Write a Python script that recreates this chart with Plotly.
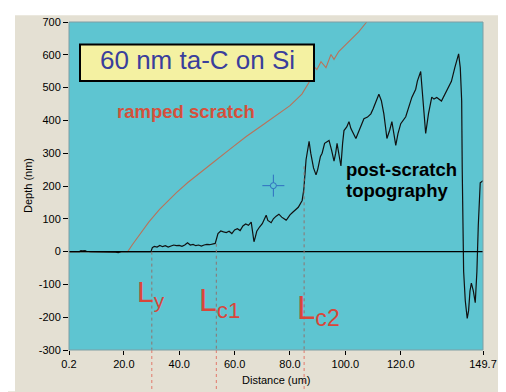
import plotly.graph_objects as go

# ---- data ----
ramp_x = [0.2, 21.4, 23.0, 25.7, 29.0, 32.9, 36.0, 39.0, 43.0, 47.3, 52.0, 58.0, 64.2, 70.0,
          76.1, 80.0, 84.3, 86.9, 88.7, 89.7, 91.2, 93.0, 94.8, 95.9, 97.6, 101.2, 104.8, 107.4, 110.0]
ramp_y = [0, 0, 20, 51, 90, 129, 155, 180, 210, 240, 270, 310, 351, 385,
          420, 445, 480, 516, 564, 555, 579, 561, 601, 586, 610, 640, 670, 697, 730]

topo_x = [0.2, 4.0, 4.5, 5.0, 6.0, 6.5, 8.0, 10.0, 15.0, 17.0, 18.0, 19.0, 20.0, 24.0, 25.0, 26.0, 29.8,
          30.3, 31, 32, 33, 34, 35, 36, 37, 38, 39, 40, 41, 42, 43, 44, 45, 46, 47, 48, 49,
          50, 51, 52, 53, 54, 55, 56, 57, 58, 59, 60, 61, 62, 63, 64, 65, 66, 66.5, 67, 67.5,
          68, 69, 70, 71.4, 72, 73.2, 74, 75, 76, 77, 78.6, 79, 80, 81, 82.2, 83, 84.4, 85,
          85.8, 86.9, 87.5, 88.5, 89.4, 90, 91, 91.6, 92.5, 94.1, 95, 95.9, 96.5, 97, 97.8,
          98.4, 99, 99.5, 100.5, 101.3, 102, 103.8, 105, 106.7, 108, 109.2, 110, 111, 112.1,
          113, 113.9, 114.5, 115, 116, 116.8, 117.5, 118.2, 119, 120, 121.8, 123, 124, 125.4,
          126, 127.2, 128, 129, 130, 131.2, 132, 133, 134.7, 136, 137, 138.3, 139.5, 140.9,
          141.5, 142.0, 142.2, 142.4, 142.7, 143.3, 144.0, 144.5, 145.0, 145.5, 146.2, 146.9,
          147.5, 148.0, 148.7, 149.7]
topo_y = [0, 0, 3, 2, 3, 1, 0, 0, 0, -2, -3, 0, 0, 0, 2, 1, 0,
          12, 16, 14, 19, 15, 18, 14, 17, 20, 18, 19, 16, 20, 27, 20, 22, 18, 20, 17, 20,
          22, 21, 23, 25, 55, 63, 60, 58, 62, 55, 66, 70, 64, 78, 84, 80, 90, 60, 30, 45,
          62, 75, 85, 111, 95, 88, 100, 108, 114, 105, 96, 100, 112, 120, 129, 135, 156, 190,
          280, 336, 300, 255, 234, 250, 290, 300, 330, 339, 310, 276, 300, 330, 290,
          261, 330, 369, 380, 396, 375, 345, 370, 405, 410, 420, 435, 455, 480,
          460, 420, 380, 345, 370, 396, 360, 324, 360, 390, 411, 440, 470, 495,
          520, 549, 470, 360, 420, 471, 465, 470, 459, 480, 495, 519, 560, 603,
          560, 459, 250, 60, -60, -150, -204, -180, -120, -96, -120, -156,
          -60, 80, 210, 216]

marker_names = ["L<sub>y</sub>", "L<sub>c1</sub>", "L<sub>c2</sub>"]
marker_x = [30.1, 53.4, 85.1]
marker_top = [0, 24, 260]
marker_sizes = [30, 32, 33]

cursor_x, cursor_y = 74, 201

x_tickvals = [0.2, 20, 40, 60, 80, 100, 120, 149.7]
x_ticktext = ["0.2", "20.0", "40.0", "60.0", "80.0", "100.0", "120.0", "149.7"]
y_tickvals = [-300, -200, -100, 0, 100, 200, 300, 400, 500, 600, 700]
y_ticktext = [str(v) for v in y_tickvals]

# ---- style ----
BEIGE = "#E4E0D3"
CYAN = "#5EC5D1"
RED = "#D9463A"
OFF = 8                      # page body margin
PW, PH = 506, 392            # page (window) size
W, H = PW - OFF, PH - OFF    # figure size
# plot area in page pixels
PL, PR, PT, PB = 69, 483, 16, 350
L, R, T, B = PL - OFF, PW - PR, PT - OFF, PH - PB
pw, ph = PR - PL, PB - PT


def px_x(p):
    return (p - PL) / pw


def px_y(p):
    return 1 - (p - PT) / ph


fig = go.Figure()
fig.add_trace(go.Scatter(x=ramp_x, y=ramp_y, mode="lines",
                         line=dict(color="#B9735A", width=1.1), hoverinfo="skip"))
fig.add_trace(go.Scatter(x=topo_x, y=topo_y, mode="lines",
                         line=dict(color="#111111", width=1.2), hoverinfo="skip"))

shapes = []
# white margins around the beige panel
shapes.append(dict(type="rect", xref="paper", yref="paper", x0=px_x(0), x1=px_x(PW),
                   y0=px_y(9), y1=px_y(0), fillcolor="white", line_width=0, layer="below"))
shapes.append(dict(type="rect", xref="paper", yref="paper", x0=px_x(0), x1=px_x(15),
                   y0=px_y(PH), y1=px_y(0), fillcolor="white", line_width=0, layer="below"))
shapes.append(dict(type="rect", xref="paper", yref="paper", x0=px_x(498), x1=px_x(PW),
                   y0=px_y(PH), y1=px_y(0), fillcolor="white", line_width=0, layer="below"))
# zero line
shapes.append(dict(type="line", xref="paper", yref="y", x0=0, x1=1, y0=0, y1=0,
                   line=dict(color="black", width=1.3)))
# marker lines
for mx, mt in zip(marker_x, marker_top):
    shapes.append(dict(type="line", xref="x", yref="y", x0=mx, x1=mx, y0=mt, y1=-300,
                       line=dict(color="#8E7470", width=1, dash="dot")))
    shapes.append(dict(type="line", xref="x", yref="paper", x0=mx, x1=mx, y0=0, y1=px_y(PH),
                       line=dict(color="#E2786A", width=1, dash="dot")))
# title box
shapes.append(dict(type="rect", xref="paper", yref="paper", x0=px_x(80), x1=px_x(314),
                   y0=px_y(76), y1=px_y(39), fillcolor="#F4F1A2",
                   line=dict(color="black", width=2)))
# cursor crosshair
CB = "#2F6FC0"
shapes.append(dict(type="line", xref="x", yref="y", xsizemode="pixel", xanchor=cursor_x,
                   x0=-11, x1=-3, y0=cursor_y, y1=cursor_y, line=dict(color=CB, width=1)))
shapes.append(dict(type="line", xref="x", yref="y", xsizemode="pixel", xanchor=cursor_x,
                   x0=3, x1=11, y0=cursor_y, y1=cursor_y, line=dict(color=CB, width=1)))
shapes.append(dict(type="line", xref="x", yref="y", ysizemode="pixel", yanchor=cursor_y,
                   y0=-11, y1=-3, x0=cursor_x, x1=cursor_x, line=dict(color=CB, width=1)))
shapes.append(dict(type="line", xref="x", yref="y", ysizemode="pixel", yanchor=cursor_y,
                   y0=3, y1=11, x0=cursor_x, x1=cursor_x, line=dict(color=CB, width=1)))
shapes.append(dict(type="circle", xref="x", yref="y", xsizemode="pixel", ysizemode="pixel",
                   xanchor=cursor_x, yanchor=cursor_y, x0=-3, x1=3, y0=-3, y1=3,
                   line=dict(color=CB, width=1)))
# plot frame
shapes.append(dict(type="rect", xref="paper", yref="paper", x0=0, x1=1, y0=0, y1=1,
                   line=dict(color="#7E9EA4", width=1)))

ann = []


def add_text(text, x, y, size, color, xanchor="center", yanchor="middle", **kw):
    ann.append(dict(text=text, xref="paper", yref="paper", x=x, y=y, xanchor=xanchor,
                    yanchor=yanchor, showarrow=False,
                    font=dict(size=size, color=color, family="Liberation Sans"), **kw))


add_text("60 nm ta-C on Si", px_x(197), px_y(55), 26, "#3A3E9C")
add_text("<b>ramped scratch</b>", px_x(186), px_y(107), 18.5, "#D5503C")
add_text("<b>post-scratch</b>", px_x(344), px_y(166), 18.5, "black", xanchor="left")
add_text("<b>topography</b>", px_x(344), px_y(188), 18.5, "black", xanchor="left")
lab_left = [135, 197, 295]
lab_top = [272, 279, 286]
for name, lx, lt, fs in zip(marker_names, lab_left, lab_top, marker_sizes):
    add_text(name, px_x(lx), px_y(lt), fs, RED, xanchor="left", yanchor="top")
add_text("Distance (um)", 0.5, px_y(381), 11, "black")
add_text("Depth (nm)", px_x(28), 0.5, 11, "black", textangle=-90)

fig.update_layout(
    width=W, height=H, margin=dict(l=L, r=R, t=T, b=B, pad=0),
    paper_bgcolor=BEIGE, plot_bgcolor=CYAN, showlegend=False,
    font=dict(family="Liberation Sans", size=11, color="black"),
    shapes=shapes, annotations=ann,
    xaxis=dict(range=[0.2, 149.7], tickmode="array", tickvals=x_tickvals, ticktext=x_ticktext,
               ticks="outside", ticklen=4, tickcolor="black", showgrid=False, zeroline=False,
               showline=False, fixedrange=True),
    yaxis=dict(range=[-300, 700], tickmode="array", tickvals=y_tickvals, ticktext=y_ticktext,
               ticks="outside", ticklen=5, tickcolor="black", showgrid=False, zeroline=False,
               showline=False, fixedrange=True),
)

fig.write_html("out.html")
